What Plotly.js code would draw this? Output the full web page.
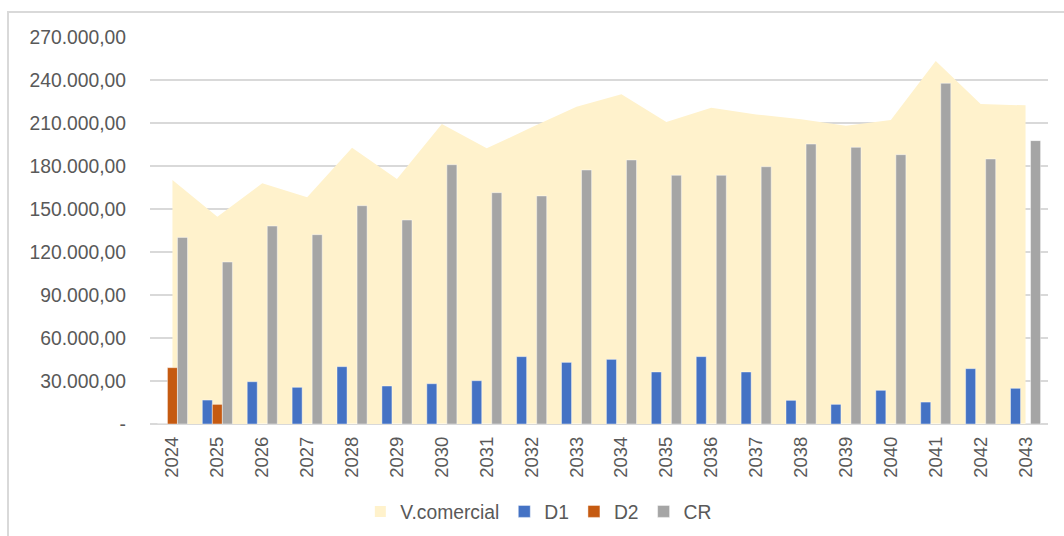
<!DOCTYPE html>
<html>
<head>
<meta charset="utf-8">
<script src="https://cdn.plot.ly/plotly-3.0.1.min.js"></script>
<style>
  html, body { margin: 0; padding: 0; background: #fff; overflow: hidden; }
  #frame { position: absolute; left: 7px; top: 11px; width: 1200px; height: 700px; border: 2px solid #d9d9d9; box-sizing: border-box; pointer-events: none; }
  #chart { position: absolute; left: 0; top: 0; width: 1064px; height: 536px; }
</style>
</head>
<body>
<div id="frame"></div>
<div id="chart"></div>
<script>
const years = ["2024","2025","2026","2027","2028","2029","2030","2031","2032","2033","2034","2035","2036","2037","2038","2039","2040","2041","2042","2043"];
const vComercial = [170200,144600,167900,158200,192800,170900,209300,192300,207000,221400,230000,210700,220700,216000,212600,208100,212100,253300,223300,222300];
const d1 = [0,16700,29500,25600,40000,26500,28100,30200,47000,43000,45100,36300,47000,36300,16500,13700,23500,15300,38600,24900];
const d2 = [39300,13700,0,0,0,0,0,0,0,0,0,0,0,0,0,0,0,0,0,0];
const cr = [130200,113000,138100,132100,152300,142300,180900,161400,159100,177200,184200,173500,173500,179500,195300,193000,187900,237700,184900,197700];
const yTickVals = [0,30000,60000,90000,120000,150000,180000,210000,240000,270000];
const yTickText = ["-","30.000,00","60.000,00","90.000,00","120.000,00","150.000,00","180.000,00","210.000,00","240.000,00","270.000,00"];

const FONT = "Liberation Sans, Arial, sans-serif";
const TXT = "#595959";
const barLine = { width: 0.8, color: "rgba(255,255,255,0.55)" };

const traces = [
  { type: "scatter", mode: "markers", name: "V.comercial", x: [null], y: [null],
    marker: { symbol: "square", size: 11, color: "#FFF2CC" }, xaxis: "x", yaxis: "y", hoverinfo: "skip" },
  { type: "scatter", mode: "lines", name: "V.comercial", x: years, y: vComercial,
    fill: "tozeroy", fillcolor: "#FFF2CC", line: { width: 0, color: "#FFF2CC" },
    showlegend: false, xaxis: "x", yaxis: "y" },
  { type: "bar", name: "D1", x: years, y: d1, marker: { color: "#4472C4", line: barLine }, xaxis: "x2", yaxis: "y2" },
  { type: "bar", name: "D2", x: years, y: d2, marker: { color: "#C55A11", line: barLine }, xaxis: "x2", yaxis: "y2" },
  { type: "bar", name: "CR", x: years, y: cr, marker: { color: "#A5A5A5", line: barLine }, xaxis: "x2", yaxis: "y2" }
];

const layout = {
  width: 1064, height: 536,
  margin: { l: 150, r: 16, t: 37, b: 112, autoexpand: false },
  paper_bgcolor: "rgba(0,0,0,0)", plot_bgcolor: "rgba(0,0,0,0)",
  font: { family: FONT, size: 19, color: TXT },
  barmode: "group", bargap: 0.33, bargroupgap: 0,
  showlegend: true,
  legend: { orientation: "h", x: 0.433, xanchor: "center", y: -0.227, yanchor: "middle",
            font: { family: FONT, size: 19.3, color: TXT }, traceorder: "normal" },
  xaxis: { type: "category", categoryorder: "array", categoryarray: years, range: [-0.5, 19.5],
           tickangle: -90, showgrid: false, ticks: "", showline: false, zeroline: false, automargin: false,
           tickfont: { family: FONT, size: 18.5, color: TXT }, ticklabelstandoff: 8 },
  yaxis: { range: [0, 270000], tickvals: yTickVals, ticktext: yTickText, showgrid: true, automargin: false,
           gridcolor: "#D9D9D9", gridwidth: 1.3, zeroline: true, zerolinecolor: "#D9D9D9", zerolinewidth: 2,
           showline: false, ticks: "", tickfont: { family: FONT, size: 19.3, color: TXT }, ticklabelstandoff: 23 },
  xaxis2: { type: "category", categoryorder: "array", categoryarray: years, range: [-0.5, 19.5],
            overlaying: "x", visible: false },
  yaxis2: { range: [0, 270000], overlaying: "y", visible: false, showgrid: false, zeroline: false }
};

Plotly.newPlot("chart", traces, layout, { displayModeBar: false, staticPlot: true });
</script>
</body>
</html>
